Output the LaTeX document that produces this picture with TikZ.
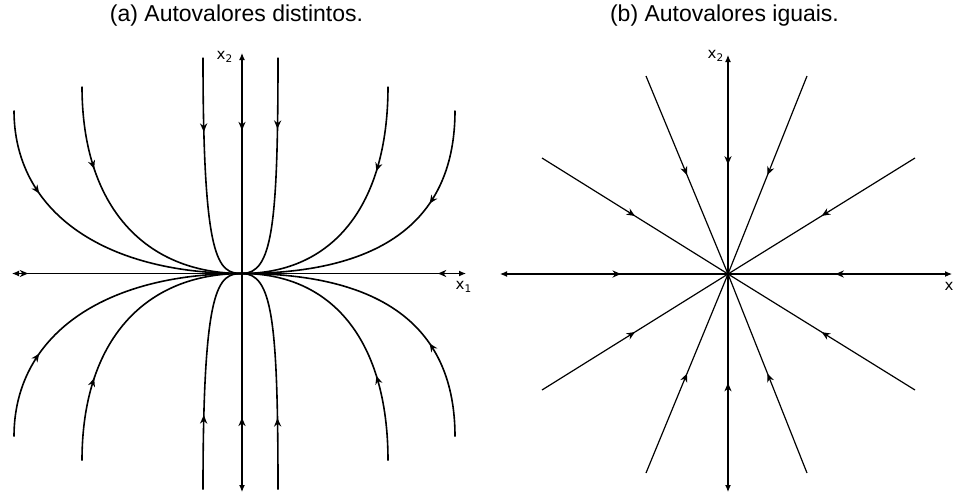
\documentclass[tikz,border=0pt]{standalone}
\usepackage{fontspec}
\setmainfont{Liberation Sans}
\newfontfamily\labelfont{DejaVu Sans}
\usetikzlibrary{arrows.meta, decorations.markings}

\begin{document}
\begin{tikzpicture}[
    x=0.5pt, y=-0.5pt,
    traj/.style={line width=0.8pt},
    ray/.style={line width=0.6pt},
    axis/.style={{Latex[length=3.5pt,width=3pt]}-, line width=0.55pt},
    flow/.style={postaction={decorate}, decoration={markings,
                 mark=at position #1 with {\arrow{Stealth[length=4.2pt,width=3.6pt]}}}},
    title/.style={font=\fontsize{11.5}{14}\selectfont},
    axlabel/.style={font=\labelfont\fontsize{7.5}{9}\selectfont, inner sep=0pt}
]
\useasboundingbox (0,0) rectangle (955,494);

\node[title] (ta) at (236.5,16) {(a) Autovalores distintos.};
\node[title] (tb) at (724.5,16) {(b) Autovalores iguais.};

% (a) distinct eigenvalues
\begin{scope}[shift={(242,273.5)}]
\coordinate (o1) at (0,0);
\draw[axis, flow=0.07] (-230,0) -- (o1);
\draw[axis, flow=0.125] (224,0) -- (o1);
\draw[axis, flow=0.35] (0,-220.5) -- (o1);
\draw[axis, flow=0.34] (0,218.5) -- (o1);
\foreach \X/\Y/\a/\b/\p in {-228/163/100/-140/0.28, -160/187/120/-97/0.30, -39/216/205/-24/0.32,
                            213/163/110/140/0.32, 146/187/120/90/0.32, 36/216/170/30/0.31}
{
  \draw[traj, flow=\p] (\X,-\Y) .. controls (\X,-\Y+\a) and (\b,0) .. (o1);
  \draw[traj, flow=\p] (\X,\Y) .. controls (\X,\Y-\a) and (\b,0) .. (o1);
}
\node[axlabel] (x2a) at (-17,-217) {x\textsubscript{2}};
\node[axlabel] (x1a) at (222,13.5) {x\textsubscript{1}};
\end{scope}

% (b) equal eigenvalues
\begin{scope}[shift={(728,274)}]
\coordinate (o2) at (0,0);
\draw[axis, flow=0.53] (-228,0) -- (o2);
\draw[axis, flow=0.52] (224,0) -- (o2);
\draw[axis, flow=0.5] (0,-219) -- (o2);
\draw[axis, flow=0.5] (0,218) -- (o2);
\foreach \dx/\dy in {-82/-198, 79/-198, -82/199, 79/199,
                     -186/-116, 187/-116, -186/116, 187/116}
  \draw[ray, flow=0.5] (\dx,\dy) -- (o2);
\node[axlabel] (x2b) at (-12,-218) {x\textsubscript{2}};
\node[axlabel] (xb) at (221,12) {x};
\end{scope}
\end{tikzpicture}
\end{document}
